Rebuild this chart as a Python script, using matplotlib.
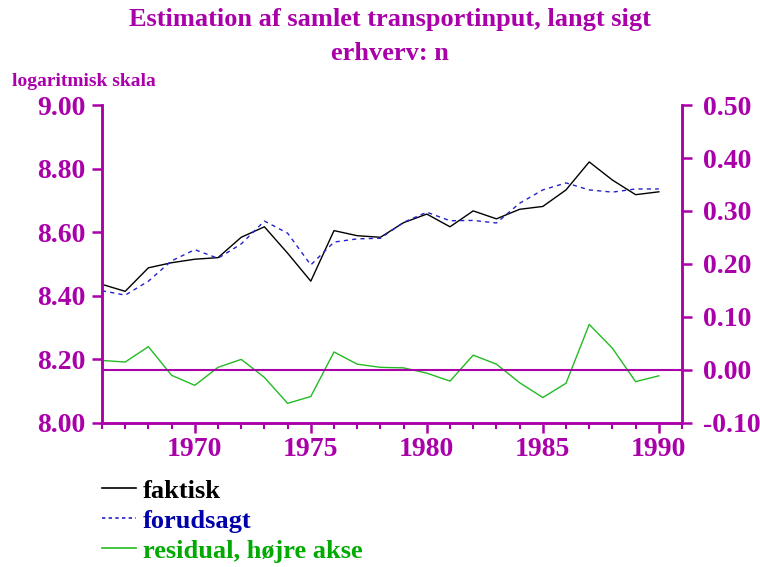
import numpy as np
import matplotlib.pyplot as plt
from matplotlib.ticker import MultipleLocator, FormatStrFormatter
from matplotlib.lines import Line2D

years = np.arange(1966, 1991)
faktisk = [8.436, 8.414, 8.488, 8.504, 8.515, 8.520, 8.584, 8.617, 8.534, 8.446,
           8.605, 8.589, 8.584, 8.630, 8.657, 8.617, 8.667, 8.642, 8.672, 8.681,
           8.733, 8.821, 8.764, 8.718, 8.727]
forudsagt = [8.416, 8.402, 8.446, 8.510, 8.545, 8.518, 8.563, 8.635, 8.597, 8.497,
             8.569, 8.579, 8.581, 8.631, 8.663, 8.636, 8.637, 8.629, 8.691, 8.733,
             8.755, 8.733, 8.726, 8.736, 8.736]
residual = [0.018, 0.015, 0.044, -0.010, -0.029, 0.005, 0.020, -0.014, -0.063, -0.050,
            0.034, 0.011, 0.005, 0.004, -0.006, -0.021, 0.028, 0.011, -0.024, -0.052,
            -0.025, 0.086, 0.041, -0.022, -0.011]

mag = "#aa00aa"
plt.rcParams['font.family'] = ['Liberation Serif', 'DejaVu Serif']
plt.rcParams['font.weight'] = 'bold'

fig = plt.figure(figsize=(7.6, 5.67), dpi=100)
ax = fig.add_axes([0.1342, 0.254, 0.7632, 0.5608])
ax2 = ax.twinx()

ax.plot(years, faktisk, color="black", lw=1)
ax.plot(years, forudsagt, color="#2222cc", lw=1, ls=(0, (3, 3)))
ax2.plot(years, residual, color="#22bb22", lw=1)
ax2.axhline(0, color=mag, lw=1.5)

ax.set_xlim(1966, 1991)
ax.set_ylim(8.0, 9.0)
ax2.set_ylim(-0.1, 0.5)

ax.yaxis.set_major_locator(MultipleLocator(0.2))
ax.yaxis.set_major_formatter(FormatStrFormatter('%.2f'))
ax2.yaxis.set_major_locator(MultipleLocator(0.1))
ax2.yaxis.set_major_formatter(FormatStrFormatter('%.2f'))
ax.xaxis.set_major_locator(MultipleLocator(5))
ax.xaxis.set_minor_locator(MultipleLocator(1))

for a in (ax, ax2):
    a.spines['top'].set_visible(False)
    for s in ('left', 'right', 'bottom'):
        a.spines[s].set_color(mag)
        a.spines[s].set_linewidth(1.8)
    a.tick_params(colors=mag, labelsize=20, width=1.8, length=7, direction='out')
ax.tick_params(axis='x', which='minor', colors=mag, width=1.5, length=4)
ax.tick_params(axis='x', which='major', length=7, pad=3)
ax.tick_params(axis='y', pad=5)
ax2.tick_params(axis='y', pad=8)

fig.text(0.513, 0.966, "Estimation af samlet transportinput, langt sigt", color=mag,
         fontsize=19, ha='center', va='center')
fig.text(0.513, 0.906, "erhverv: n", color=mag, fontsize=19, ha='center', va='center')
fig.text(0.016, 0.857, "logaritmisk skala", color=mag, fontsize=14, ha='left', va='center')

leg_items = [("faktisk", "black", "black", '-'),
             ("forudsagt", "#2222cc", "#0000aa", (0, (2, 2))),
             ("residual, højre akse", "#22bb22", "#00aa00", '-')]
handles = [Line2D([], [], color=c, lw=1.2, ls=ls) for _, c, _, ls in leg_items]
leg = fig.legend(handles, [t for t, _, _, _ in leg_items], loc='upper left',
                 bbox_to_anchor=(0.134, 0.155), frameon=False, fontsize=19,
                 handlelength=1.3, handletextpad=0.25, labelspacing=0.25,
                 borderaxespad=0, borderpad=0)
for txt, (_, _, tc, _) in zip(leg.get_texts(), leg_items):
    txt.set_color(tc)

fig.savefig("out.png", dpi=100)
